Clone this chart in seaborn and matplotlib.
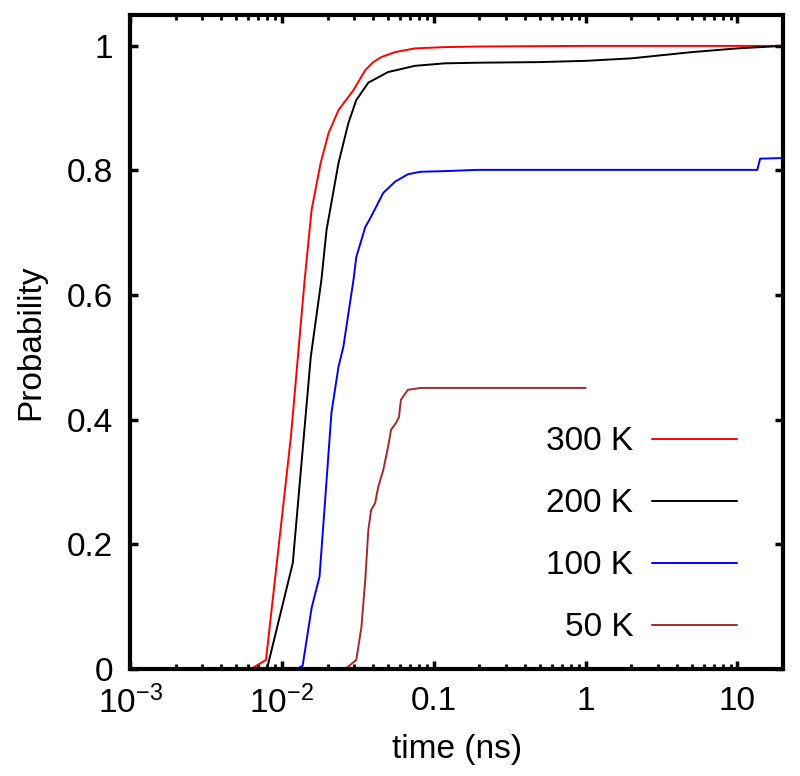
import numpy as np
import pandas as pd
import matplotlib
matplotlib.use("Agg")
import matplotlib.pyplot as plt
import seaborn as sns
from matplotlib.ticker import LogLocator, NullFormatter

## Data
t_300 = [0.00627, 0.00786, 0.01146, 0.01412, 0.0157, 0.0180, 0.0203, 0.0236, 0.0296,
         0.0354, 0.0400, 0.0451, 0.0556, 0.0752, 0.118, 0.194, 1.0, 20.0]
p_300 = [0.0, 0.0144, 0.372, 0.624, 0.737, 0.812, 0.860, 0.897, 0.929,
         0.961, 0.974, 0.982, 0.990, 0.996, 0.998, 0.999, 1.0, 1.0]

t_200 = [0.00798, 0.0118, 0.0155, 0.0182, 0.0197, 0.0236, 0.0274, 0.0309, 0.0371,
         0.050, 0.0752, 0.118, 0.194, 0.5, 1.0, 2.0, 5.0, 10.0, 20.0]
p_200 = [0.0, 0.170, 0.501, 0.624, 0.705, 0.812, 0.876, 0.913, 0.941,
         0.958, 0.968, 0.972, 0.973, 0.974, 0.976, 0.980, 0.990, 0.996, 1.0]

t_100 = [0.01253, 0.0137, 0.0157, 0.0177, 0.0197, 0.0212, 0.0236, 0.0254, 0.0296,
         0.0309, 0.0354, 0.0387, 0.0465, 0.0556, 0.0676, 0.0822, 0.118, 0.194,
         13.5, 14.1, 20.0]
p_100 = [0.0, 0.005, 0.098, 0.148, 0.303, 0.411, 0.485, 0.517, 0.624,
         0.661, 0.709, 0.726, 0.764, 0.782, 0.794, 0.798, 0.799, 0.801,
         0.801, 0.819, 0.820]

t_50 = [0.0262, 0.0309, 0.0334, 0.0354, 0.0371, 0.0387, 0.0411, 0.0431, 0.0465,
        0.050, 0.0524, 0.0565, 0.059, 0.0608, 0.0676, 0.0822, 1.0]
p_50 = [0.0, 0.0144, 0.067, 0.143, 0.223, 0.255, 0.266, 0.292, 0.319,
        0.356, 0.384, 0.395, 0.404, 0.432, 0.448, 0.451, 0.451]

labels = ["300 K", "200 K", "100 K", "50 K"]
colors = ["#ff0000", "#000000", "#0000ff", "#a52a2a"]

x_ticks = [1e-3, 1e-2, 0.1, 1, 10]
x_labels = [r"$\mathregular{10^{-3}}$", r"$\mathregular{10^{-2}}$", "0.1", "1", "10"]
y_ticks = [0, 0.2, 0.4, 0.6, 0.8, 1.0]
y_labels = ["0", "0.2", "0.4", "0.6", "0.8", "1"]

## Plot
sns.set_theme(style="ticks")
plt.rcParams["font.family"] = ["Liberation Sans", "DejaVu Sans"]
plt.rcParams["mathtext.fontset"] = "custom"
plt.rcParams["mathtext.rm"] = "Liberation Sans"
plt.rcParams["mathtext.it"] = "Liberation Sans:italic"
plt.rcParams["text.color"] = "black"
plt.rcParams["axes.labelcolor"] = "black"

fig, ax = plt.subplots(figsize=(8, 7.76), dpi=100)
fig.subplots_adjust(left=0.1625, right=0.979, bottom=0.138, top=0.981)

series = [(t_300, p_300), (t_200, p_200), (t_100, p_100), (t_50, p_50)]
for (t, p), lab, col in zip(series, labels, colors):
    sns.lineplot(x=t, y=p, color=col, label=lab, lw=1.4, sort=False,
                 estimator=None, ax=ax)

ax.set_xscale("log")
ax.set_xlim(1e-3, 20)
ax.set_ylim(0, 1.05)
ax.set_xticks(x_ticks, x_labels)
ax.xaxis.set_minor_locator(LogLocator(base=10, subs=np.arange(2, 10)))
ax.xaxis.set_minor_formatter(NullFormatter())
ax.set_yticks(y_ticks, y_labels)

for s in ax.spines.values():
    s.set_visible(True)
    s.set_linewidth(3)
    s.set_color("black")

ax.tick_params(which="both", direction="in", top=True, right=True,
               labelsize=24, colors="black")
ax.tick_params(which="major", length=6, width=2.5, pad=12)
ax.tick_params(which="minor", length=3.5, width=2)

ax.set_xlabel("time (ns)", fontsize=24, color="black")
ax.set_ylabel("Probability", fontsize=24, color="black")
ax.xaxis.set_label_coords(0.5, -0.1)
ax.yaxis.set_label_coords(-0.128, 0.5)

leg = ax.legend(loc="upper right", bbox_to_anchor=(0.929, 0.371), frameon=False,
                markerfirst=False, fontsize=24, handlelength=2.55, handletextpad=0.55,
                labelspacing=0.93, borderpad=0, borderaxespad=0)
for txt in leg.get_texts():
    txt.set_color("black")

plt.savefig("out.png", dpi=100)
